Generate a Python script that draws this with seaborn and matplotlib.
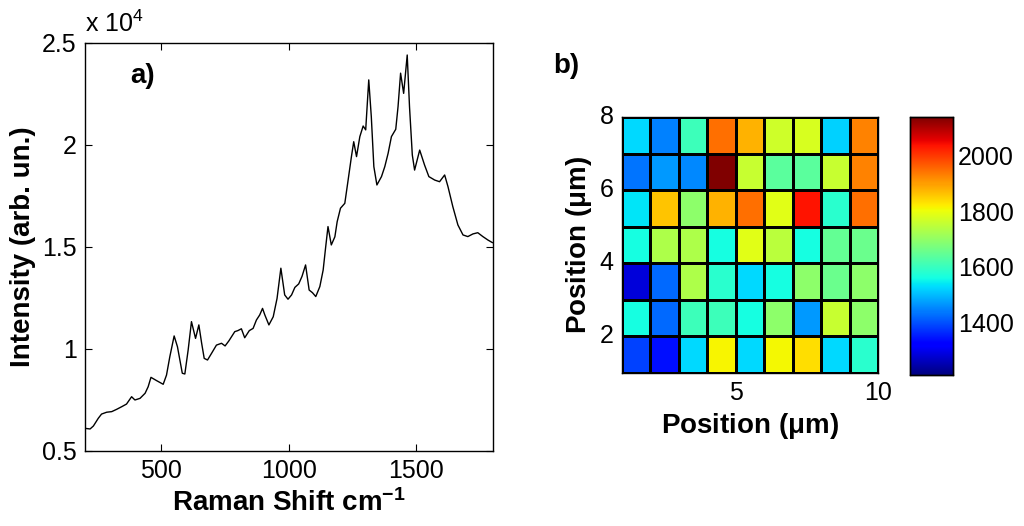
import numpy as np
import pandas as pd
import matplotlib
matplotlib.use('Agg')
import matplotlib.pyplot as plt
import seaborn as sns

# Raman spectrum
raman_shift = [200, 220, 233, 252, 265, 285, 305, 324, 344, 363, 383, 396, 416, 436,
               448, 459, 481, 507, 520, 533, 550, 563, 582, 592, 605, 618, 634, 647,
               658, 668, 681, 697, 716, 736, 750, 765, 788, 800, 814, 827, 845, 860,
               873, 886, 897, 906, 922, 939, 954, 969, 984, 997, 1011, 1024, 1039,
               1052, 1066, 1080, 1093, 1106, 1122, 1135, 1145, 1154, 1167, 1181, 1190,
               1203, 1220, 1233, 1246, 1255, 1266, 1279, 1292, 1302, 1314, 1324, 1334,
               1346, 1364, 1377, 1390, 1403, 1420, 1429, 1439, 1451, 1465, 1474, 1485,
               1494, 1514, 1533, 1550, 1573, 1592, 1612, 1625, 1644, 1664, 1684, 1703,
               1723, 1742, 1762, 1782, 1800]
intensity = [6110, 6080, 6225, 6600, 6810, 6900, 6930, 7040, 7170, 7300, 7660, 7500,
             7580, 7830, 8150, 8610, 8450, 8270, 8720, 9620, 10640, 10110, 8810, 8775,
             9950, 11340, 10520, 11180, 10280, 9540, 9460, 9790, 10190, 10280, 10150,
             10400, 10850, 10900, 10990, 10550, 10900, 11010, 11420, 11670, 11990,
             11670, 11180, 11580, 12480, 13960, 12650, 12440, 12650, 13020, 13190,
             13560, 14120, 12890, 12760, 12570, 13060, 13870, 15010, 16000, 15100,
             15500, 16240, 16900, 17140, 18280, 19430, 20160, 19430, 20410, 20930,
             20740, 23190, 21390, 18940, 18040, 18450, 18940, 19590, 20410, 20770,
             21880, 23520, 22530, 24410, 21880, 19510, 18770, 19750, 19020, 18450,
             18280, 18200, 18530, 17960, 16980, 16080, 15590, 15510, 15640, 15700,
             15510, 15340, 15210]

# Map values, rows listed from top (y=8) to bottom (y=1)
map_x = [1, 2, 3, 4, 5, 6, 7, 8, 9]
map_y_top_down = [7, 6, 5, 4, 3, 2, 1]
map_values = [
    [1526, 1443, 1605, 1945, 1880, 1768, 1777, 1517, 1926],
    [1433, 1466, 1452, 2140, 1759, 1638, 1638, 1759, 1926],
    [1536, 1861, 1694, 1880, 1945, 1791, 2038, 1582, 1945],
    [1559, 1731, 1731, 1559, 1791, 1745, 1559, 1647, 1656],
    [1284, 1424, 1731, 1582, 1526, 1559, 1694, 1656, 1694],
    [1559, 1424, 1605, 1605, 1559, 1694, 1466, 1759, 1694],
    [1387, 1340, 1526, 1815, 1526, 1810, 1838, 1526, 1582],
]
cbar_ticks = [1400, 1600, 1800, 2000]

sns.set_style('white')
plt.rcParams['font.family'] = ['Liberation Sans', 'DejaVu Sans']
plt.rcParams['mathtext.fontset'] = 'custom'
plt.rcParams['mathtext.rm'] = 'Liberation Sans'
plt.rcParams['mathtext.bf'] = 'Liberation Sans:bold'
plt.rcParams['mathtext.it'] = 'Liberation Sans:italic'
plt.rcParams['text.color'] = 'black'
plt.rcParams['axes.labelcolor'] = 'black'
plt.rcParams['xtick.color'] = 'black'
plt.rcParams['ytick.color'] = 'black'

fig = plt.figure(figsize=(10.24, 5.26), dpi=100)

# a) spectrum
ax1 = fig.add_axes([0.083, 0.1426, 0.398, 0.7757])
spec = pd.DataFrame({'shift': raman_shift, 'intensity': np.array(intensity) / 1e4})
sns.lineplot(data=spec, x='shift', y='intensity', ax=ax1, color='black', lw=1.0)
ax1.set_xlim(200, 1800)
ax1.set_ylim(0.5, 2.5)
ax1.set_xticks([500, 1000, 1500])
ax1.set_yticks([0.5, 1, 1.5, 2, 2.5])
ax1.set_yticklabels(['0.5', '1', '1.5', '2', '2.5'])
ax1.tick_params(direction='in', top=True, right=True, left=True, bottom=True,
                length=5, width=0.8, labelsize=18, pad=6)
for s in ax1.spines.values():
    s.set_linewidth(1.0)
    s.set_color('black')
ax1.set_xlabel('Raman Shift cm$^{\\mathbf{-1}}$', fontsize=20, fontweight='bold')
ax1.set_ylabel('Intensity (arb. un.)', fontsize=20, fontweight='bold')
ax1.text(0.0, 1.015, 'x 10$^{4}$', transform=ax1.transAxes, fontsize=18,
         ha='left', va='bottom')
ax1.text(0.11, 0.92, 'a)', transform=ax1.transAxes, fontsize=20,
         fontweight='bold', ha='left', va='center')

# b) map
ax2 = fig.add_axes([0.6074, 0.2909, 0.25, 0.4867])
cax = fig.add_axes([0.8887, 0.2871, 0.042, 0.4905])
grid = pd.DataFrame(map_values, index=map_y_top_down, columns=map_x)
sns.heatmap(grid, ax=ax2, cmap='jet', vmin=1210, vmax=2140, linewidths=0.8,
            linecolor='black', cbar_ax=cax, cbar_kws={'ticks': cbar_ticks})
ax2.set_xticks([4, 9])
ax2.set_xticklabels(['5', '10'], rotation=0)
ax2.set_yticks([0, 2, 4, 6])
ax2.set_yticklabels(['8', '6', '4', '2'], rotation=0)
ax2.tick_params(length=0, labelsize=18, pad=6)
for s in ax2.spines.values():
    s.set_visible(True)
    s.set_linewidth(1.0)
    s.set_color('black')
ax2.set_xlabel('Position ($\\mathbf{\\mu}$m)', fontsize=20, fontweight='bold')
ax2.set_ylabel('Position ($\\mathbf{\\mu}$m)', fontsize=20, fontweight='bold')
ax2.text(-0.27, 1.2, 'b)', transform=ax2.transAxes, fontsize=20,
         fontweight='bold', ha='left', va='center')

cax.tick_params(direction='in', length=4, labelsize=18, left=True, right=True)
for s in cax.spines.values():
    s.set_visible(True)
    s.set_linewidth(1.0)
    s.set_color('black')

fig.savefig('out.png', dpi=100)
